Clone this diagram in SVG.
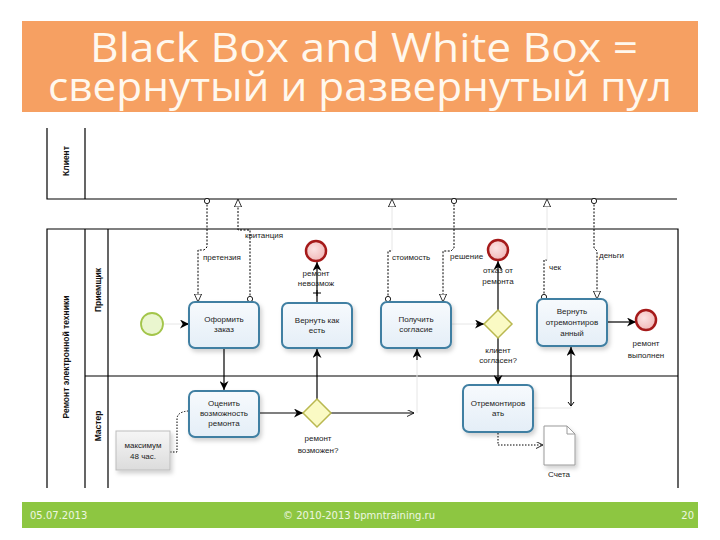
<svg xmlns="http://www.w3.org/2000/svg" width="720" height="540" viewBox="0 0 720 540">
<style>
.t{font-family:"Liberation Sans",Arial,sans-serif;font-size:8px;fill:#222;text-anchor:middle}
.lbl{font-family:"Liberation Sans",Arial,sans-serif;font-size:8px;fill:#222}
.hdr{font-family:"Liberation Sans",Arial,sans-serif;font-size:8.5px;font-weight:bold;fill:#111;text-anchor:middle}
.pool{stroke:#000;stroke-width:1.2;fill:none}
.task{fill:url(#gTask);stroke:#3F7FA2;stroke-width:2;filter:url(#sh)}
.gw{fill:#FAFAC4;stroke:#B9B850;stroke-width:1.5}
.endev{fill:url(#gEnd);stroke:#A51A1A;stroke-width:2.5}
.seq{stroke:#000;stroke-width:1.2;fill:none;marker-end:url(#seq)}
.faint{stroke:#e6e6e6;stroke-width:1;fill:none}
.msg{stroke:#000;stroke-width:1;fill:none;stroke-dasharray:2,1.5}
.as{stroke:#000;stroke-width:1;fill:none;stroke-dasharray:1.5,1.5}
.title{font-family:"Open Sans","DejaVu Sans",sans-serif;font-size:40px;fill:#FFF8EE;text-anchor:middle}
.foot{font-family:"DejaVu Sans",Verdana,sans-serif;font-size:10px;fill:#EEF7E2}
</style>
<defs>
<linearGradient id="gTask" x1="0" y1="0" x2="0" y2="1"><stop offset="0" stop-color="#F7FAFD"/><stop offset="1" stop-color="#E4EEF7"/></linearGradient>
<radialGradient id="gEnd" cx="0.4" cy="0.4" r="0.7"><stop offset="0" stop-color="#FBE3E3"/><stop offset="1" stop-color="#F0B3B3"/></radialGradient>
<linearGradient id="gNote" x1="0" y1="0" x2="0" y2="1"><stop offset="0" stop-color="#F6F6F6"/><stop offset="1" stop-color="#DCDCDC"/></linearGradient>
<filter id="sh" x="-20%" y="-20%" width="150%" height="160%"><feDropShadow dx="2" dy="3" stdDeviation="2" flood-color="#000" flood-opacity="0.18"/></filter>
<marker id="seq" viewBox="0 0 10 10" refX="10" refY="5" markerWidth="9" markerHeight="9" orient="auto" markerUnits="userSpaceOnUse"><path d="M0,0 L10,5 L0,10 L3,5 z" fill="#000"/></marker>
<marker id="mopen" viewBox="0 0 10 10" refX="10" refY="5" markerWidth="8" markerHeight="8" orient="auto" markerUnits="userSpaceOnUse"><path d="M0,0.5 L10,5 L0,9.5 z" fill="#fff" stroke="#000" stroke-width="1"/></marker>
<marker id="mcirc" viewBox="0 0 8 8" refX="4" refY="4" markerWidth="7" markerHeight="7" markerUnits="userSpaceOnUse"><circle cx="4" cy="4" r="3" fill="#fff" stroke="#000" stroke-width="1"/></marker>
<marker id="chev" viewBox="0 0 10 10" refX="10" refY="5" markerWidth="7" markerHeight="7" orient="auto" markerUnits="userSpaceOnUse"><path d="M0,0 L10,5 L0,10" fill="none" stroke="#000" stroke-width="1.2"/></marker>
</defs>

<rect width="720" height="540" fill="#fff"/>

<g id="title">
<rect x="22" y="21" width="676" height="91" fill="#F6A062"/>
<text class="title" x="364" y="62" textLength="548" lengthAdjust="spacingAndGlyphs">Black Box and White Box =</text>
<text class="title" x="360" y="101" textLength="624" lengthAdjust="spacingAndGlyphs">свернутый и развернутый пул</text>
</g>

<g id="footer">
<rect x="22" y="502" width="676" height="26" fill="#8DC641"/>
<text class="foot" x="30" y="519">05.07.2013</text>
<text class="foot" x="283" y="519">© 2010-2013 bpmntraining.ru</text>
<text class="foot" x="694" y="519" text-anchor="end">20</text>
</g>

<g id="pool-client">
<path class="pool" d="M47,128 V199 H677 M85,128 V199"/>
<text class="hdr" transform="translate(69,161) rotate(-90)">Клиент</text>
</g>

<g id="pool-repair">
<path class="pool" d="M47,488 V229 H678 V488 M85,229 V488 M108,229 V488 M85,376 H678"/>
<text class="hdr" transform="translate(69,357) rotate(-90)">Ремонт электронной техники</text>
<text class="hdr" transform="translate(101,290) rotate(-90)">Приемщик</text>
<text class="hdr" transform="translate(101,426) rotate(-90)">Мастер</text>
</g>

<g id="connectors">
<path class="faint" d="M163,324 H185"/><path class="seq" d="M184,324 H189" />
<path class="seq" d="M224,348 V390"/>
<path class="seq" d="M259,413 H303"/>
<path class="seq" d="M317,399 V349"/>
<path class="seq" d="M317,303 V262"/>
<path d="M313,293 H321 M317,290 V296" stroke="#000" stroke-width="1"/>
<path d="M331,413 H414" stroke="#000" stroke-width="1.2" fill="none" marker-end="url(#chev)"/>
<path class="faint" d="M417,413 V360"/>
<path class="seq" d="M417,360 V349"/>
<path class="faint" d="M451,324 H476"/>
<path class="seq" d="M476,324 H484"/>
<path class="seq" d="M498,310 V261"/>
<path class="seq" d="M498,338 V384"/>
<path class="faint" d="M533,408 H571 V405"/>
<path class="seq" d="M571,405 V347"/>
<path d="M568,402 L571,406 L574,402" stroke="#000" fill="none" stroke-width="1"/>
<path class="seq" d="M607,322 H636"/>

<path class="msg" d="M207,201 V247 L204,250 H198 V302" marker-start="url(#mcirc)" marker-end="url(#mopen)"/>
<path class="msg" d="M250,299 V230 H238 V199" marker-start="url(#mcirc)" marker-end="url(#mopen)"/>
<path class="msg" d="M388,299 V251 H392" marker-start="url(#mcirc)"/>
<path class="faint" d="M392,251 V199" marker-end="url(#mopen)"/>
<path class="msg" d="M454,201 V248 L451,251 H443 V302" marker-start="url(#mcirc)" marker-end="url(#mopen)"/>
<path class="msg" d="M544,297 V260 H547" marker-start="url(#mcirc)"/>
<path class="faint" d="M547,260 V199" marker-end="url(#mopen)"/>
<path class="msg" d="M594,201 V248 L597,251 V299" marker-start="url(#mcirc)" marker-end="url(#mopen)"/>

<path class="as" d="M498,433 V445 H543" marker-end="url(#chev)"/>
<path class="as" d="M170,452 H177 V419 Q177,412 188,411"/>

<text class="lbl" x="203" y="260">претензия</text>
<text class="lbl" x="245" y="238">квитанция</text>
<text class="lbl" x="392" y="260">стоимость</text>
<text class="lbl" x="450" y="259">решение</text>
<text class="lbl" x="549" y="270">чек</text>
<text class="lbl" x="599" y="258">деньги</text>
</g>

<g id="start">
<circle cx="152" cy="324" r="11" fill="#EAF6CF" stroke="#A3C54A" stroke-width="1.8"/>
</g>

<g id="task-order">
<rect class="task" x="189" y="302" width="70" height="46" rx="6"/>
<text class="t" x="224" y="322">Оформить</text>
<text class="t" x="224" y="332">заказ</text>
</g>

<g id="task-return">
<rect class="task" x="282" y="303" width="70" height="45" rx="6"/>
<text class="t" x="317" y="323">Вернуть как</text>
<text class="t" x="317" y="333">есть</text>
</g>

<g id="task-consent">
<rect class="task" x="381" y="302" width="70" height="46" rx="6"/>
<text class="t" x="416" y="322">Получить</text>
<text class="t" x="416" y="332">согласие</text>
</g>

<g id="task-evaluate">
<rect class="task" x="189" y="391" width="70" height="46" rx="6"/>
<text class="t" x="224" y="406">Оценить</text>
<text class="t" x="224" y="416">возможность</text>
<text class="t" x="224" y="426">ремонта</text>
</g>

<g id="task-repair">
<rect class="task" x="463" y="385" width="70" height="47" rx="6"/>
<text class="t" x="498" y="406">Отремонтиров</text>
<text class="t" x="498" y="416">ать</text>
</g>

<g id="task-return-repaired">
<rect class="task" x="537" y="299" width="70" height="47" rx="6"/>
<text class="t" x="572" y="314">Вернуть</text>
<text class="t" x="572" y="325">отремонтиров</text>
<text class="t" x="572" y="336">анный</text>
</g>

<g id="end-impossible">
<circle class="endev" cx="316" cy="251" r="10"/>
<text class="t" x="316" y="276">ремонт</text>
<text class="t" x="316" y="286">невозмож</text>
</g>

<g id="end-refused">
<circle class="endev" cx="498" cy="250" r="10"/>
<text class="t" x="498" y="273">отказ от</text>
<text class="t" x="498" y="284">ремонта</text>
</g>

<g id="end-done">
<circle class="endev" cx="646" cy="320" r="10"/>
<text class="t" x="646" y="346">ремонт</text>
<text class="t" x="646" y="358">выполнен</text>
</g>

<g id="gw-consent">
<path class="gw" d="M498,310 L512,324 L498,338 L484,324 Z"/>
<text class="t" x="498" y="353">клиент</text>
<text class="t" x="498" y="363">согласен?</text>
</g>

<g id="gw-possible">
<path class="gw" d="M317,399 L331,413 L317,427 L303,413 Z"/>
<text class="t" x="318" y="441">ремонт</text>
<text class="t" x="318" y="453">возможен?</text>
</g>

<g id="data-invoices">
<path d="M544,426 H567 L575,434 V465 H544 Z" fill="#fff" stroke="#9a9a9a" stroke-width="1" filter="url(#sh)"/>
<path d="M567,426 V434 H575" fill="none" stroke="#9a9a9a" stroke-width="1"/>
<text class="t" x="559" y="477">Счета</text>
</g>

<g id="note-max">
<rect x="116" y="431" width="54" height="39" fill="url(#gNote)" stroke="#bdbdbd" stroke-width="1" filter="url(#sh)"/>
<text class="t" x="143" y="448">максимум</text>
<text class="t" x="143" y="459">48 час.</text>
</g>
</svg>
